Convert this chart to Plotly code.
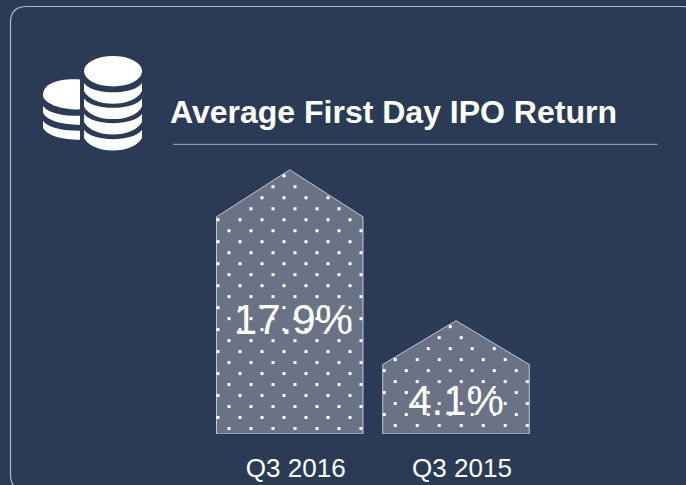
import numpy as np
import plotly.graph_objects as go

categories = ["Q3 2016", "Q3 2015"]
value_labels = ["17.9%", "4.1%"]
peak_heights = [100.0, 42.9]
shoulder_heights = [82.2, 26.3]
label_heights = [42.0, 11.3]
title_text = "Average First Day IPO Return"

W, H = 686, 485
BASE = 434.5
BG = "#2b3b55"
PX_X = 166.25   # pixels per category step
PX_Y = 2.645    # pixels per height unit

def X(px): return px / W
def Y(py): return 1 - py / BASE
def P(*items):
    out = []
    for it in items:
        if isinstance(it, str):
            out.append(it)
        else:
            out.append(f"{X(it[0]):.5f},{Y(it[1]):.5f}")
    return " ".join(out)

half = 73.25 / PX_X

def texture(i):
    """Staggered dot lattice anchored at the top-left of house i, clipped to the house."""
    xs, ys = [], []
    peak, sh = peak_heights[i], shoulder_heights[i]
    for row in range(0, 30):
        dy = 6 + 11 * row
        dx0 = 1.5 if row % 2 == 0 else 12.5
        for col in range(0, 8):
            dx = dx0 + 22 * col
            xd = i - half + dx / PX_X
            yd = peak - dy / PX_Y
            if dx > 146.5 or yd * PX_Y < 2.5:
                continue
            roof = peak - (peak - sh) * abs(xd - i) / half
            if yd <= roof - 0.3:
                xs.append(xd)
                ys.append(yd)
    return xs, ys

fig = go.Figure()
for i, c in enumerate(categories):
    xs = [i - half, i - half, i, i + half, i + half, i - half]
    ys = [0, shoulder_heights[i], peak_heights[i], shoulder_heights[i], 0, 0]
    fig.add_trace(go.Scatter(
        x=xs, y=ys, mode="lines", fill="toself", showlegend=False, hoverinfo="skip",
        line=dict(color="#c4c8cf", width=1), fillcolor="#6a7386",
    ))
    dx, dy = texture(i)
    fig.add_trace(go.Scatter(
        x=dx, y=dy, mode="markers", showlegend=False, hoverinfo="skip",
        marker=dict(symbol="square", size=3, color="#ffffff", line=dict(width=0)),
    ))
fig.add_trace(go.Scatter(
    x=[0.022, 1], y=label_heights, mode="text", text=value_labels, showlegend=False, hoverinfo="skip",
    textposition="middle center",
    textfont=dict(family="Liberation Sans", size=42, color="#ffffff"),
))

shapes = []
line_frame = dict(color="#b4b9c1", width=1.2)
L, T, R, Bt, r = 10.5, 6.5, 698, 491, 16
shapes.append(dict(type="path", xref="paper", yref="paper", line=line_frame, layer="below",
    path=P("M", (L, T + r), "Q", (L, T), (L + r, T), "L", (R - r, T), "Q", (R, T), (R, T + r),
           "L", (R, Bt - r), "Q", (R, Bt), (R - r, Bt), "L", (L + r, Bt), "Q", (L, Bt), (L, Bt - r), "Z")))
shapes.append(dict(type="line", xref="paper", yref="paper", x0=X(173), x1=X(657.5), y0=Y(144.5), y1=Y(144.5),
                   line=dict(color="#a9aeb7", width=1)))

white = dict(fillcolor="#ffffff", line=dict(width=0), xref="paper", yref="paper")
shapes.append(dict(type="circle", x0=X(84), x1=X(142), y0=Y(56), y1=Y(86.5), **white))
for top in [83, 98.5, 114, 130]:
    shapes.append(dict(type="path", **white, path=P(
        "M", (84, top), "C", (92, top + 12.5), (134, top + 12.5), (142, top),
        "L", (142, top + 8), "C", (134, top + 25), (92, top + 25), (84, top + 8), "Z")))
shapes.append(dict(type="path", **white, path=P(
    "M", (80, 79.5), "C", (60, 78), (43, 83), (43, 95), "C", (43, 103), (60, 110), (80, 109.5), "Z")))
for top in [106, 121]:
    shapes.append(dict(type="path", **white, path=P(
        "M", (43, top), "C", (48, top + 7), (62, top + 10), (80, top + 10),
        "L", (80, top + 19), "C", (62, top + 19), (47, top + 15), (43, top + 7), "Z")))

fig.update_layout(
    width=W, height=H, autosize=False,
    margin=dict(l=0, r=0, t=0, b=H - BASE),
    paper_bgcolor=BG, plot_bgcolor=BG, shapes=shapes,
    title=dict(text=f"<b>{title_text}</b>", x=X(170), xanchor="left", xref="paper",
               y=1 - 112 / H, yanchor="middle",
               font=dict(family="Liberation Sans", size=32, color="#ffffff")),
    xaxis=dict(range=[-289.75 / PX_X, (W - 289.75) / PX_X], tickvals=[0.036, 1.036], ticktext=categories,
               showgrid=False, zeroline=False, showline=False, ticks="", ticklabelstandoff=16,
               tickfont=dict(family="Liberation Sans", size=26, color="#ffffff")),
    yaxis=dict(range=[0, BASE / PX_Y], visible=False),
)
fig.write_html("out.html", post_script="document.body.style.margin='0';",
               config=dict(displayModeBar=False))
